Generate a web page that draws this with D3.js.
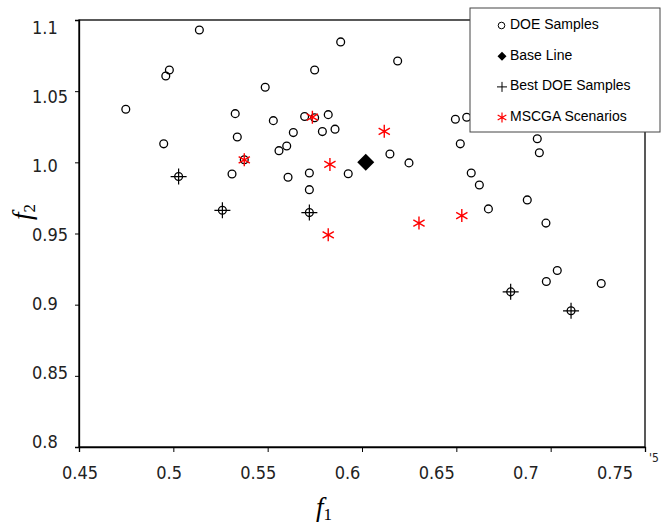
<!DOCTYPE html>
<html>
<head>
<meta charset="utf-8">
<script src="https://cdn.jsdelivr.net/npm/d3@7"></script>
<style>
  body { margin: 0; background: #fff; }
  .tick-label { font-family: "Liberation Sans Narrow", "Arial Narrow", "DejaVu Sans Condensed", sans-serif; font-size: 18px; fill: #222; }
  .legend-text { font-family: "Liberation Sans", Arial, sans-serif; font-size: 14px; fill: #000; }
</style>
</head>
<body>
<div id="chart"></div>
<script>
// DOE samples (all circles)
const doeF1 = [0.5138, 0.4748, 0.4960, 0.4979, 0.4949, 0.5487, 0.5328, 0.5530, 0.5339, 0.5636,
  0.5601, 0.5560, 0.5311, 0.5608, 0.5721, 0.5721, 0.5696, 0.5749, 0.5749, 0.5821,
  0.5790, 0.5857, 0.5887, 0.5376, 0.5028, 0.5260, 0.5721, 0.6189, 0.6148, 0.6249,
  0.5927, 0.6495, 0.6555, 0.6521, 0.6929, 0.6940, 0.6579, 0.6622, 0.6876, 0.6670,
  0.6975, 0.7035, 0.6977, 0.7268, 0.6788, 0.7108];
const doeF2 = [1.0930, 1.0373, 1.0607, 1.0649, 1.0130, 1.0527, 1.0342, 1.0293, 1.0178, 1.0209,
  1.0115, 1.0082, 0.9918, 0.9895, 0.9925, 0.9808, 1.0322, 1.0313, 1.0649, 1.0335,
  1.0216, 1.0233, 1.0846, 1.0018, 0.9900, 0.9663, 0.9647, 1.0712, 1.0059, 0.9996,
  0.9920, 1.0303, 1.0317, 1.0130, 1.0166, 1.0067, 0.9925, 0.9841, 0.9736, 0.9673,
  0.9573, 0.9240, 0.9163, 0.9149, 0.9090, 0.8957];

// best DOE samples (plus signs)
const bestF1 = [0.5028, 0.5260, 0.5721, 0.6788, 0.7108];
const bestF2 = [0.9900, 0.9663, 0.9647, 0.9090, 0.8957];

// MSCGA scenarios (red asterisks)
const mscgaF1 = [0.5376, 0.5737, 0.5830, 0.5821, 0.6118, 0.6302, 0.6529];
const mscgaF2 = [1.0018, 1.0317, 0.9985, 0.9491, 1.0218, 0.9573, 0.9626];

// base line (diamond)
const baseF1 = [0.6020];
const baseF2 = [1.0001];

const xTicks = [0.45, 0.5, 0.55, 0.6, 0.65, 0.7, 0.75];
const xTickLabels = ["0.45", "0.5", "0.55", "0.6", "0.65", "0.7", "0.75"];
const yTicks = [0.8, 0.85, 0.9, 0.95, 1.0, 1.05, 1.1];
const yTickLabels = ["0.8", "0.85", "0.9", "0.95", "1.0", "1.05", "1.1"];

const legendNames = ["DOE Samples", "Base Line", "Best DOE Samples", "MSCGA Scenarios"];

const width = 670, height = 526;
const plot = {left: 79, right: 645, top: 20, bottom: 447};

const svg = d3.select('#chart')
  .append('svg')
    .attr('width', width)
    .attr('height', height);

const x = d3.scaleLinear().domain([0.45, 0.75]).range([plot.left, plot.right]);
const y = d3.scaleLinear().domain([0.8, 1.1]).range([plot.bottom, plot.top]);

// the tick labels in the picture drift away from their ticks
const xLabel = d3.scaleLinear().domain([0.45, 0.75]).range([80, 615]);
const yLabel = d3.scaleLinear().domain([0.8, 1.1]).range([442, 28]);

// frame
svg.append('rect')
  .attr('x', plot.left).attr('y', plot.top)
  .attr('width', plot.right - plot.left).attr('height', plot.bottom - plot.top)
  .attr('fill', 'none').attr('stroke', '#000').attr('stroke-width', 1.3);

// axes (ticks only, labels drawn separately)
const xAxis = svg.append('g')
  .attr('transform', `translate(0,${plot.bottom})`)
  .call(d3.axisBottom(x).tickValues(xTicks).tickSize(5).tickFormat(''));
const yAxis = svg.append('g')
  .attr('transform', `translate(${plot.left},0)`)
  .call(d3.axisLeft(y).tickValues(yTicks).tickSize(4).tickFormat(''));
[xAxis, yAxis].forEach(a => {
  a.select('.domain').attr('stroke', '#000').attr('stroke-width', 1.3);
  a.selectAll('.tick line').attr('stroke', '#000').attr('stroke-width', 1);
});

svg.selectAll('.xlab')
  .data(xTicks)
  .enter()
  .append('text')
  .attr('class', 'tick-label')
  .attr('x', d => xLabel(d))
  .attr('y', 479)
  .attr('text-anchor', 'middle')
  .text((d, i) => xTickLabels[i]);

// clipped remnant of the last label
svg.append('text')
  .attr('class', 'tick-label')
  .attr('x', 649).attr('y', 462)
  .style('font-size', '12px')
  .text("'5");

svg.selectAll('.ylab')
  .data(yTicks)
  .enter()
  .append('text')
  .attr('class', 'tick-label')
  .attr('x', 32)
  .attr('y', d => yLabel(d) + 6)
  .text((d, i) => yTickLabels[i]);

// axis titles
const t1 = svg.append('text')
  .attr('x', 324).attr('y', 516)
  .attr('text-anchor', 'middle')
  .style('font-family', '"Liberation Serif", "Times New Roman", serif');
t1.append('tspan').style('font-style', 'italic').style('font-size', '27px').text('f');
t1.append('tspan').attr('dy', 4).style('font-size', '17px').text('1');

const t2 = svg.append('text')
  .attr('transform', 'translate(31,212) rotate(-90)')
  .attr('text-anchor', 'middle')
  .style('font-family', '"Liberation Serif", "Times New Roman", serif');
t2.append('tspan').style('font-style', 'italic').style('font-size', '27px').text('f');
t2.append('tspan').attr('dy', 4).style('font-size', '17px').text('2');

// marks
const doe = doeF1.map((v, i) => [v, doeF2[i]]);
const best = bestF1.map((v, i) => [v, bestF2[i]]);
const mscga = mscgaF1.map((v, i) => [v, mscgaF2[i]]);
const base = baseF1.map((v, i) => [v, baseF2[i]]);

const plusPath = s => `M${-s},0H${s}M0,${-s}V${s}`;
const starPath = s => {
  const a = s * Math.cos(Math.PI / 6), b = s * Math.sin(Math.PI / 6);
  return `M0,${-s}V${s}M${-a},${-b}L${a},${b}M${-a},${b}L${a},${-b}`;
};

svg.selectAll('.doe')
  .data(doe)
  .enter()
  .append('circle')
  .attr('cx', d => x(d[0]))
  .attr('cy', d => y(d[1]))
  .attr('r', 3.9)
  .attr('fill', 'none')
  .attr('stroke', '#000')
  .attr('stroke-width', 1.3);

svg.selectAll('.best')
  .data(best)
  .enter()
  .append('path')
  .attr('transform', d => `translate(${x(d[0])},${y(d[1])})`)
  .attr('d', plusPath(8))
  .attr('stroke', '#000')
  .attr('stroke-width', 1.2);

svg.selectAll('.mscga')
  .data(mscga)
  .enter()
  .append('path')
  .attr('transform', d => `translate(${x(d[0])},${y(d[1])})`)
  .attr('d', starPath(6.5))
  .attr('stroke', '#f00')
  .attr('stroke-width', 1.4);

svg.selectAll('.base')
  .data(base)
  .enter()
  .append('path')
  .attr('transform', d => `translate(${x(d[0])},${y(d[1])})`)
  .attr('d', 'M0,-8.5L8.5,0L0,8.5L-8.5,0Z')
  .attr('fill', '#000');

// legend
const legend = svg.append('g');
legend.append('rect')
  .attr('x', 470).attr('y', 8)
  .attr('width', 190).attr('height', 124)
  .attr('fill', '#fff')
  .attr('stroke', '#444')
  .attr('stroke-width', 1);

const rowY = i => 24 + i * 30.7;
legend.selectAll('.legend-text')
  .data(legendNames)
  .enter()
  .append('text')
  .attr('class', 'legend-text')
  .attr('x', 510)
  .attr('y', (d, i) => rowY(i) + 5)
  .text(d => d);

legend.append('circle')
  .attr('cx', 501.5).attr('cy', rowY(0) + 1.5).attr('r', 3.3)
  .attr('fill', 'none').attr('stroke', '#000').attr('stroke-width', 1);
legend.append('path')
  .attr('transform', `translate(502,${rowY(1) + 1.5})`)
  .attr('d', 'M0,-4.5L4.5,0L0,4.5L-4.5,0Z')
  .attr('fill', '#000');
legend.append('path')
  .attr('transform', `translate(502,${rowY(2) + 1.5})`)
  .attr('d', plusPath(5))
  .attr('stroke', '#000').attr('stroke-width', 1);
legend.append('path')
  .attr('transform', `translate(502,${rowY(3) + 1.5})`)
  .attr('d', starPath(5))
  .attr('stroke', '#f00').attr('stroke-width', 1.2);
</script>
</body>
</html>
